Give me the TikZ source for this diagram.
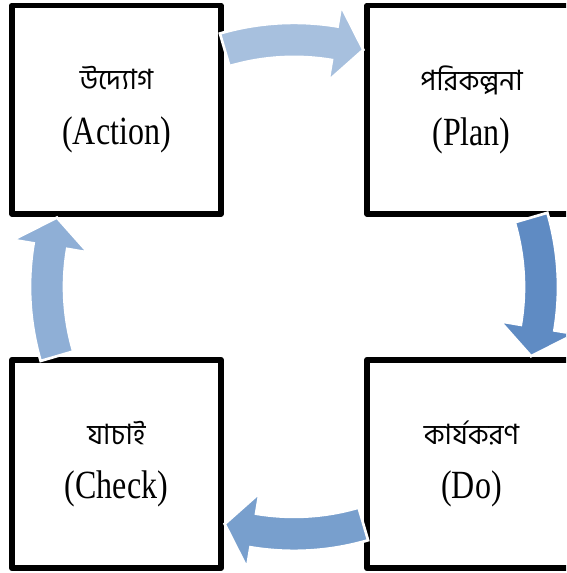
\documentclass[tikz,border=0pt]{standalone}
\usepackage{fontspec}
\usepackage{graphicx}
\usetikzlibrary{calc}
\setmainfont{Liberation Serif}
\newfontfamily\bn[Script=Bengali]{Hind Siliguri}
\definecolor{arrA}{RGB}{167,192,222}
\definecolor{arrB}{RGB}{95,139,195}
\definecolor{arrC}{RGB}{120,159,205}
\definecolor{arrD}{RGB}{143,175,214}
\newcommand{\en}[1]{\scalebox{.8}[1]{#1}}
\newcommand{\bntext}[1]{{\fontsize{21}{40}\bn #1}}

\begin{document}
\begin{tikzpicture}[x=0.75pt,y=0.75pt,
  box/.style={rectangle,draw,line width=4.2pt,line join=round,inner sep=0pt,
    minimum width=156.75pt,minimum height=156.4pt,align=center,
    font=\fontsize{30}{41}\selectfont},
  bend/.style={fill=#1,draw=white,line width=2pt}]
\clip (0,0) rectangle (566,-573);
\node [box] (action) at (116.5,-109.75) {\bntext{উদ্যোগ}\\\en{(Action)}};
\node [box] (plan) at (471.5,-109.75) {\bntext{পরিকল্পনা}\\\en{(Plan)}};
\node [box] (do) at (471.5,-464) {\bntext{কার্যকরণ}\\\en{(Do)}};
\node [box] (check) at (116.5,-464) {\bntext{যাচাই}\\\en{(Check)}};
\coordinate (mid) at ($(action.center)!.5!(do.center)$);
\foreach \a/\col in {90/arrA,0/arrB,-90/arrC,180/arrD}
  \filldraw [bend=\col,shift={(mid)}]
    (\a+16.3:264) arc [start angle=\a+16.3,end angle=\a-9.5,radius=264]
    -- (\a-9.5:285) -- (\a-16.3:247) -- (\a-9.5:209) -- (\a-9.5:230)
    arc [start angle=\a-9.5,end angle=\a+16.3,radius=230] -- cycle;
\end{tikzpicture}
\end{document}
